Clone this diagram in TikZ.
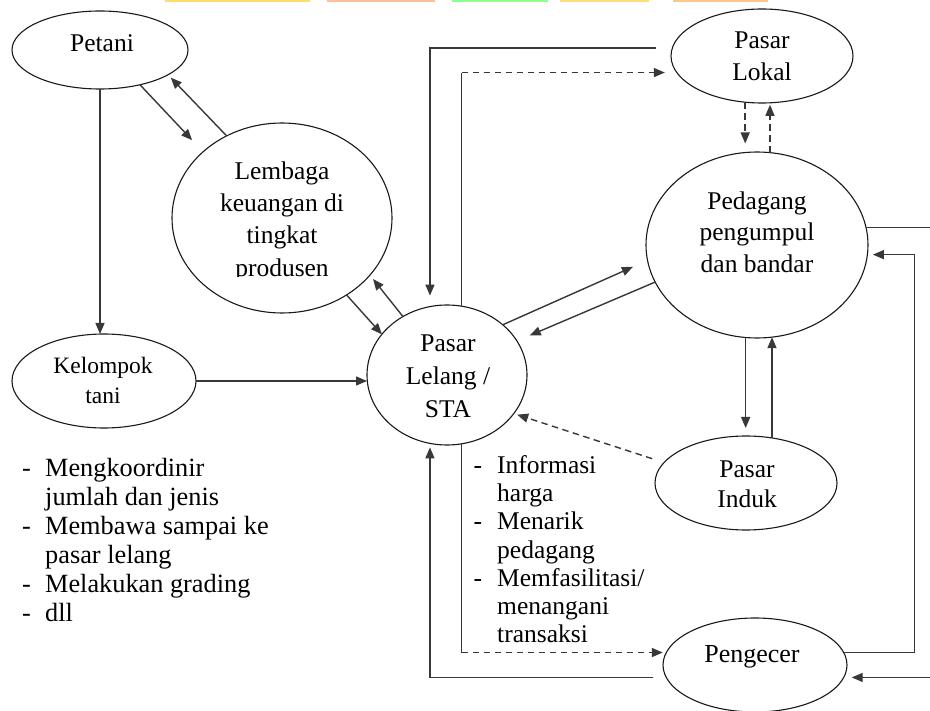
\documentclass[tikz,border=0pt]{standalone}
\usepackage{fontspec}
\setmainfont{Liberation Serif}
\usetikzlibrary{arrows.meta,shapes.geometric}
\newcommand\lstdash[1]{\makebox[#1][l]{-}}
\begin{document}
\begin{tikzpicture}[x=1pt,y=-1pt,
  ell/.style={draw=black!90, line width=1.1pt, ellipse, inner sep=0pt, outer sep=0pt},
  lbl/.style={align=center, inner sep=0pt, font=\fontsize{25.5}{32}\selectfont},
  conn/.style={draw=black!78, line width=1.4pt},
  arr/.style={conn, -{Triangle[length=11pt,width=9pt]}},
  dsh/.style={dash pattern=on 6.5pt off 4.5pt},
  lst/.style={align=left, inner sep=0pt, anchor=north west, font=\fontsize{26.3}{29}\selectfont}]
\useasboundingbox (0,0) rectangle (930,711);
\fill[white] (0,0) rectangle (930,711);
% top strips (cropped heading)
\fill[orange!45!yellow!60] (165,0) rectangle (310,2.5);
\fill[red!25!orange!40] (327,0) rectangle (435,2.5);
\fill[green!45] (452,0) rectangle (548,2.5);
\fill[yellow!55!orange!50] (560,0) rectangle (649,2.5);
\fill[orange!45] (673,0) rectangle (768,2.5);

% ellipses
\node[ell, minimum width=176pt, minimum height=78pt] (petani) at (100,50) {};
\node[ell, minimum width=220pt, minimum height=190pt] (lembaga) at (282,218) {};
\node[ell, minimum width=184pt, minimum height=94pt] (kelompok) at (104,381) {};
\node[ell, minimum width=160pt, minimum height=140pt] (lelang) at (447,375) {};
\node[ell, minimum width=182pt, minimum height=94pt] (lokal) at (762,56) {};
\node[ell, minimum width=222pt, minimum height=186pt] (pedagang) at (757,245) {};
\node[ell, minimum width=182pt, minimum height=94pt] (induk) at (746,483) {};
\node[ell, minimum width=184pt, minimum height=94pt] (pengecer) at (755,665) {};

% texts
\node[lbl] (petaniT) at (102,43.5) {Petani};
\begin{scope}
\clip (160,140) rectangle (400,276.5);
\node[lbl, font=\fontsize{25.5}{32.3}\selectfont] (lembagaT) at (282,221.5) {Lembaga\\keuangan di\\tingkat\\produsen};
\end{scope}
\node[lbl, font=\fontsize{23.5}{30}\selectfont] (kelompokT) at (103,380.4) {Kelompok\\tani};
\node[lbl, font=\fontsize{25.5}{33}\selectfont] (lelangT) at (448,376.3) {Pasar\\Lelang /\\STA};
\node[lbl] (lokalT) at (762,56.3) {Pasar\\Lokal};
\node[lbl, font=\fontsize{25.5}{31.5}\selectfont] (pedagangT) at (757,232) {Pedagang\\pengumpul\\dan bandar};
\node[lbl, font=\fontsize{25.5}{30}\selectfont] (indukT) at (747,484.3) {Pasar\\Induk};
\node[lbl, font=\fontsize{26}{30}\selectfont] (pengecerT) at (752,657) {Pengecer};

\node[lst] (listL) at (22,458.3) {\lstdash{23pt}Mengkoordinir\\\hspace*{23pt}jumlah dan jenis\\\lstdash{23pt}Membawa sampai ke\\\hspace*{23pt}pasar lelang\\\lstdash{23pt}Melakukan grading\\\lstdash{23pt}dll};
\node[lst, font=\fontsize{25.5}{28.2}\selectfont] (listM) at (473.5,455.3) {\lstdash{23.5pt}Informasi\\\hspace*{23.5pt}harga\\\lstdash{23.5pt}Menarik\\\hspace*{23.5pt}pedagang\\\lstdash{23.5pt}Memfasilitasi/\\\hspace*{23.5pt}menangani\\\hspace*{23.5pt}transaksi};

% connectors
\draw[arr] (petani.south) -- (petani.south |- kelompok.north);
\draw[arr, shorten >=16pt] (petani.-41) -- (lembaga.140);
\draw[arr, shorten >=4pt] (lembaga.124) -- (petani.-20);
\draw[arr] (lembaga.-50) -- (lelang.148);
\draw[arr, shorten >=5pt] (lelang.127) -- (lembaga.-33);
\draw[arr] (kelompok.east) -- (kelompok.east -| lelang.west);

\draw[arr, shorten <=16pt, shorten >=11pt] (lokal.175) -| (lelang.104);
\coordinate (c1) at (lelang.78 |- lokal.191);
\draw[conn] (lelang.78) -- (c1);
\draw[arr, dsh, shorten >=12pt] (c1) -- (lokal.191);

\draw[arr, dsh, shorten >=9pt] (lokal.-110) -- (lokal.-110 |- pedagang.97);
\draw[arr, dsh, shorten >=2pt] (pedagang.82) -- (pedagang.82 |- lokal.-80);

\draw[arr, shorten >=16pt] (lelang.42) -- (pedagang.188);
\draw[arr, shorten >=14pt] (pedagang.200) -- (lelang.26);

\draw[arr, shorten >=8pt] (pedagang.-97) -- (pedagang.-97 |- induk.north);
\draw[arr] (induk.60) -- (induk.60 |- pedagang.-81);

\draw[arr, dsh, shorten <=12.5pt, shorten >=3.6pt] (induk.166) -- (lelang.-30);

\coordinate (c2) at (lelang.-78 |- pengecer.172);
\draw[conn] (lelang.-78) -- (c2);
\draw[arr, dsh, shorten >=3.5pt] (c2) -- (pengecer.172);

\draw[arr, shorten <=13pt, shorten >=4pt] (pengecer.188) -| (lelang.-104);

\coordinate (outA) at (940,228);
\coordinate (outB) at (940,677);
\draw[conn] (pedagang.9) -- (pedagang.9 -| outA);
\draw[arr, shorten >=8pt] (pengecer.-8 -| outB) -- (pengecer.-8);
\draw[arr, shorten >=5.5pt] (pengecer.8) -- ++(71,0) |- (pedagang.-5);
\end{tikzpicture}
\end{document}
